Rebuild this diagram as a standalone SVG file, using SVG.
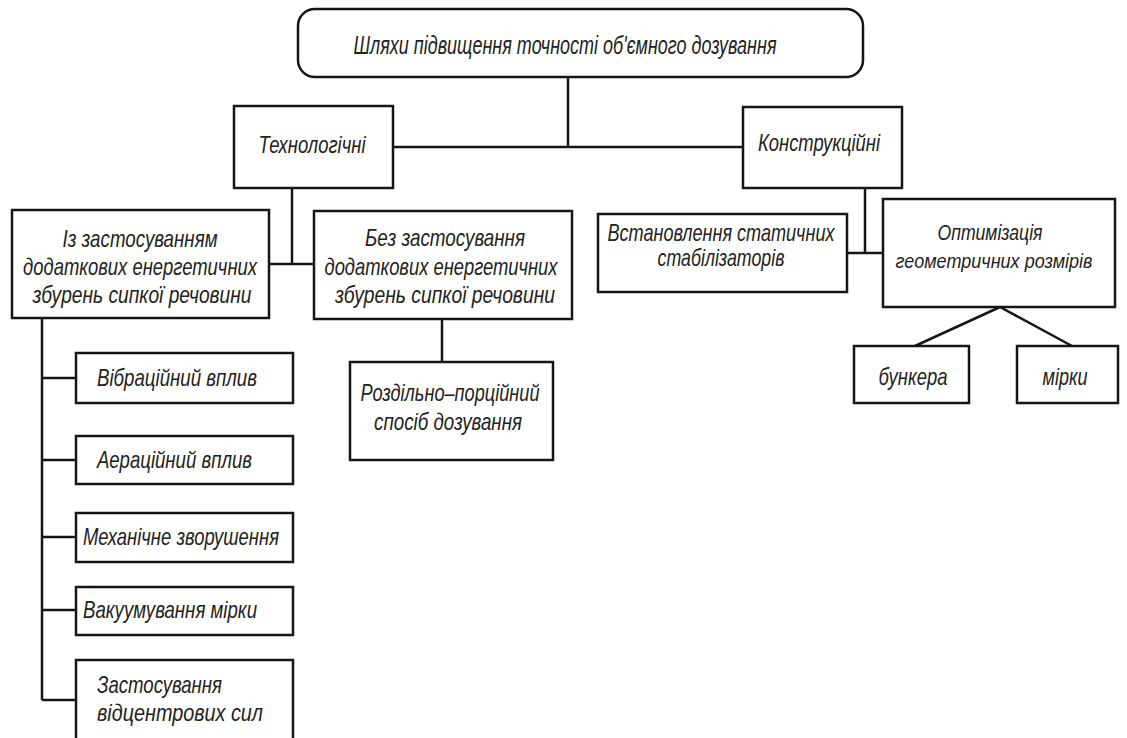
<svg xmlns="http://www.w3.org/2000/svg" width="1127" height="738" viewBox="0 0 1127 738">
<style>
.box{fill:#fff;stroke:#151515;stroke-width:2.5}
.ln{fill:none;stroke:#151515;stroke-width:2.5}
text{font-family:"Liberation Sans","DejaVu Sans",sans-serif;font-style:italic;font-size:24px;fill:#222}
.m{text-anchor:middle}
.t{font-size:25px}
.s{font-size:22px}
.xs{font-size:20px}
</style>
<rect width="1127" height="738" fill="#fff"/>
<g id="connectors">
<path class="ln" d="M568 77 V147 M393 147 H743"/>
<path class="ln" d="M292 188 V264 M269 264 H314"/>
<path class="ln" d="M865 188 V253 M847 253 H883"/>
<path class="ln" d="M42 318 V700 M42 378 H76 M42 460 H76 M42 537 H76 M42 610 H76 M42 700 H76"/>
<path class="ln" d="M442 319 V362"/>
<path class="ln" d="M1000 307 L915 346 M1000 307 L1072 346"/>
</g>
<g id="title">
<rect class="box" x="298" y="9" width="565" height="68" rx="17"/>
<text class="m t" x="565" y="54" textLength="423" lengthAdjust="spacingAndGlyphs">Шляхи підвищення точності об'ємного дозування</text>
</g>
<g id="tech">
<rect class="box" x="234" y="106" width="159" height="82"/>
<text class="m" x="312" y="153" textLength="107" lengthAdjust="spacingAndGlyphs">Технологічні</text>
</g>
<g id="konst">
<rect class="box" x="743" y="107" width="159" height="81"/>
<text class="m" x="819" y="151" textLength="122" lengthAdjust="spacingAndGlyphs">Конструкційні</text>
</g>
<g id="with-energy">
<rect class="box" x="12" y="210" width="257" height="108"/>
<text class="m" x="140" y="247" textLength="155" lengthAdjust="spacingAndGlyphs">Із застосуванням</text>
<text class="m" x="140" y="275" textLength="234" lengthAdjust="spacingAndGlyphs">додаткових енергетичних</text>
<text class="m" x="142" y="303" textLength="219" lengthAdjust="spacingAndGlyphs">збурень сипкої речовини</text>
</g>
<g id="without-energy">
<rect class="box" x="314" y="211" width="258" height="108"/>
<text class="m" x="445" y="246" textLength="160" lengthAdjust="spacingAndGlyphs">Без застосування</text>
<text class="m" x="441" y="275" textLength="233" lengthAdjust="spacingAndGlyphs">додаткових енергетичних</text>
<text class="m" x="445" y="303" textLength="220" lengthAdjust="spacingAndGlyphs">збурень сипкої речовини</text>
</g>
<g id="stabilizers">
<rect class="box" x="598" y="214" width="249" height="78"/>
<text class="m" x="721" y="241" textLength="227" lengthAdjust="spacingAndGlyphs">Встановлення статичних</text>
<text class="m" x="721" y="266" textLength="127" lengthAdjust="spacingAndGlyphs">стабілізаторів</text>
</g>
<g id="optimization">
<rect class="box" x="883" y="199" width="232" height="108"/>
<text class="m s" x="990" y="240" textLength="105" lengthAdjust="spacingAndGlyphs">Оптимізація</text>
<text class="m xs" x="994" y="268" textLength="197" lengthAdjust="spacingAndGlyphs">геометричних розмірів</text>
</g>
<g id="bunker">
<rect class="box" x="854" y="346" width="115" height="57"/>
<text class="m" x="913" y="385" textLength="69" lengthAdjust="spacingAndGlyphs">бункера</text>
</g>
<g id="measure">
<rect class="box" x="1017" y="346" width="101" height="57"/>
<text class="m" x="1065" y="385" textLength="45" lengthAdjust="spacingAndGlyphs">мірки</text>
</g>
<g id="separate-portion">
<rect class="box" x="350" y="362" width="203" height="98"/>
<text class="m" x="450" y="401" textLength="179" lengthAdjust="spacingAndGlyphs">Роздільно–порційний</text>
<text class="m" x="448" y="430" textLength="148" lengthAdjust="spacingAndGlyphs">спосіб дозування</text>
</g>
<g id="vibration">
<rect class="box" x="76" y="353" width="217" height="50"/>
<text x="97" y="386" textLength="160" lengthAdjust="spacingAndGlyphs">Вібраційний вплив</text>
</g>
<g id="aeration">
<rect class="box" x="76" y="436" width="217" height="48"/>
<text x="97" y="468" textLength="155" lengthAdjust="spacingAndGlyphs">Аераційний вплив</text>
</g>
<g id="mechanical">
<rect class="box" x="76" y="513" width="217" height="49"/>
<text x="83" y="545" textLength="196" lengthAdjust="spacingAndGlyphs">Механічне зворушення</text>
</g>
<g id="vacuum">
<rect class="box" x="76" y="587" width="217" height="48"/>
<text x="83" y="618" textLength="174" lengthAdjust="spacingAndGlyphs">Вакуумування мірки</text>
</g>
<g id="centrifugal">
<rect class="box" x="76" y="660" width="217" height="82"/>
<text x="97" y="693" textLength="125" lengthAdjust="spacingAndGlyphs">Застосування</text>
<text x="97" y="721" textLength="166" lengthAdjust="spacingAndGlyphs">відцентрових сил</text>
</g>
</svg>
